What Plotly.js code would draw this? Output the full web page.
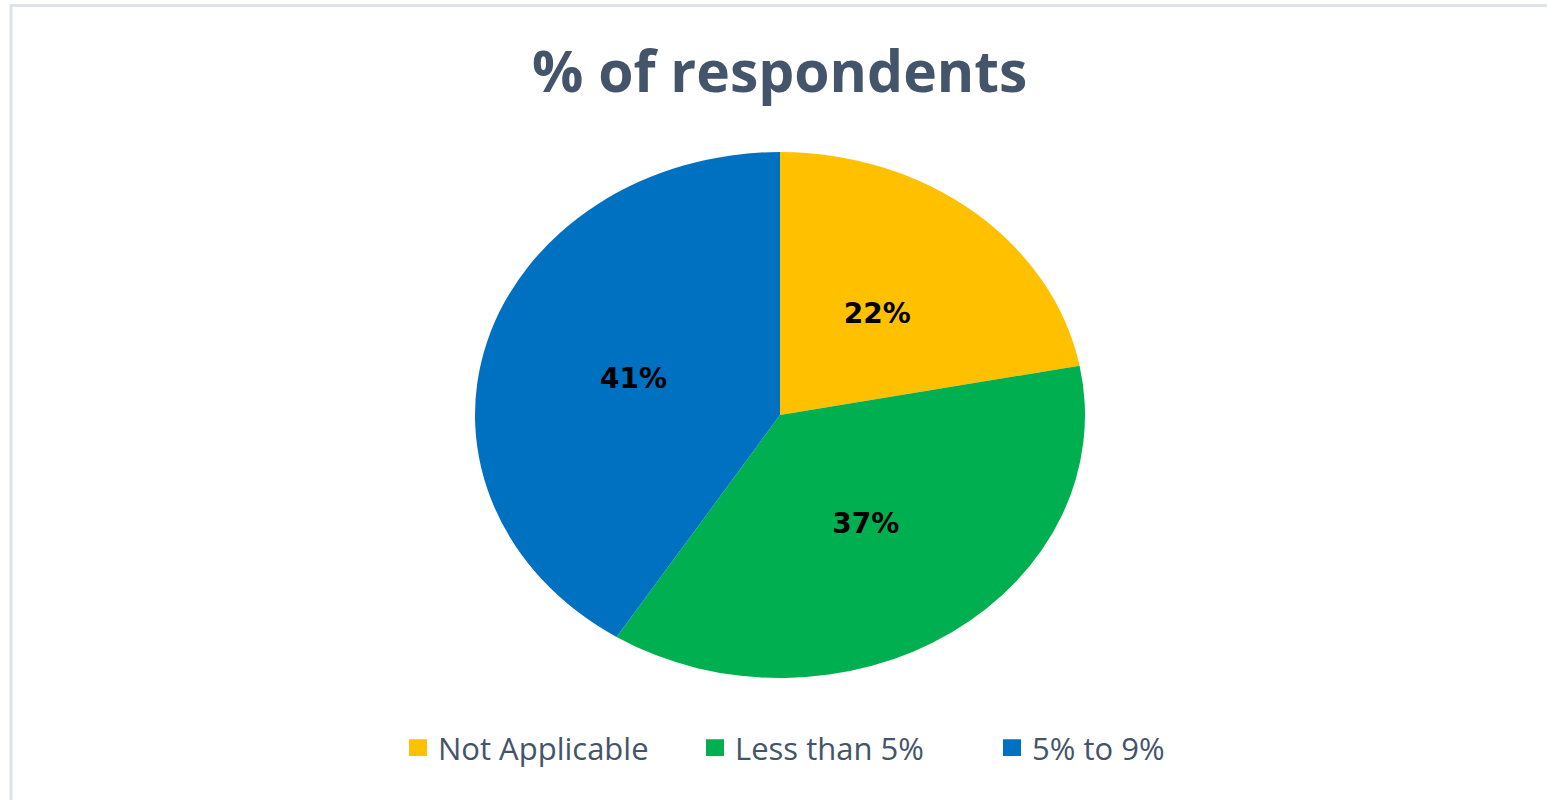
<!DOCTYPE html>
<html>
<head>
<meta charset="utf-8">
<script src="https://cdn.plot.ly/plotly-3.0.1.min.js"></script>
<style>
  html, body { margin: 0; padding: 0; background: #ffffff; }
  #chart { width: 1547px; height: 800px; }
</style>
</head>
<body>
<div id="chart"></div>
<script>
// ---- data ----
const categories = ["Not Applicable", "Less than 5%", "5% to 9%"];
const values = [22, 37, 41];
const sliceColors = ["#FFC000", "#00B050", "#0070C0"];
const chartTitle = "% of respondents";

const W = 1547, H = 800;
const domX = [517 / W, 1043 / W];
const domY = [1 - 678 / H, 1 - 152 / H];
const stretchX = 305 / 263;

const trace = {
  type: "pie",
  labels: categories,
  values: values,
  sort: false,
  direction: "clockwise",
  rotation: 0,
  marker: { colors: sliceColors, line: { width: 0 } },
  textinfo: "percent",
  texttemplate: "%{percent:.0%}",
  textposition: "inside",
  insidetextorientation: "horizontal",
  insidetextfont: { family: "DejaVu Sans", size: 28, color: "#000000", weight: "bold" },
  domain: { x: domX, y: domY },
  hoverinfo: "none"
};

const layout = {
  width: W, height: H,
  margin: { l: 0, r: 0, t: 0, b: 0 },
  paper_bgcolor: "#ffffff",
  showlegend: true,
  title: {
    text: "<b>" + chartTitle + "</b>",
    font: { family: "Open Sans", size: 57, color: "#44546A" },
    x: 0.504, xanchor: "center", xref: "paper",
    y: 1 - 72 / H, yanchor: "middle", yref: "paper"
  },
  legend: {
    orientation: "h",
    x: 398 / W, xanchor: "left",
    y: 1 - 748 / H, yanchor: "middle",
    font: { family: "Open Sans", size: 31, color: "#44546A" },
    itemwidth: 30,
    entrywidth: 252,
    traceorder: "normal"
  },
  shapes: [{
    type: "rect", xref: "paper", yref: "paper",
    x0: 11 / W, x1: 1.02, y0: -0.02, y1: 1 - 5.5 / H,
    line: { color: "#DEE3EA", width: 3 }, fillcolor: "rgba(0,0,0,0)", layer: "below"
  }]
};

Plotly.newPlot("chart", [trace], layout, { staticPlot: true, displayModeBar: false }).then(function (gd) {
  try {
    const cx = (domX[0] + domX[1]) / 2 * W;
    const cy = (1 - (domY[0] + domY[1]) / 2) * H;
    const r = (domY[1] - domY[0]) * H / 2;
    const total = values.reduce((a, b) => a + b, 0);
    const svgBB = gd.querySelector(".main-svg").getBoundingClientRect();
    const slices = gd.querySelectorAll(".pielayer .slice");
    let cum = 0;
    slices.forEach(function (g, i) {
      const path = g.querySelector("path.surface");
      if (path) {
        path.setAttribute("transform",
          "translate(" + cx + "," + cy + ") scale(" + stretchX + ",1) translate(" + (-cx) + "," + (-cy) + ")");
      }
      const v = values[i];
      const mid = (cum + v / 2) / total * 2 * Math.PI;
      cum += v;
      const tx = cx + Math.sin(mid) * r * 0.5 * stretchX;
      const ty = cy - Math.cos(mid) * r * 0.5;
      const txt = g.querySelector("text.slicetext");
      if (txt) {
        const bb = txt.getBoundingClientRect();
        const curX = bb.left + bb.width / 2 - svgBB.left;
        const curY = bb.top + bb.height / 2 - svgBB.top;
        const prev = txt.getAttribute("transform") || "";
        txt.setAttribute("transform", "translate(" + (tx - curX) + "," + (ty - curY) + ") " + prev);
      }
    });
    // enlarge legend swatches to match the reference
    gd.querySelectorAll(".legend .legendpoints path").forEach(function (p) {
      const prev = p.getAttribute("transform") || "";
      p.setAttribute("transform", prev + " scale(1.5,1.4)");
    });
  } catch (e) { console.log(e); }
});
</script>
</body>
</html>
